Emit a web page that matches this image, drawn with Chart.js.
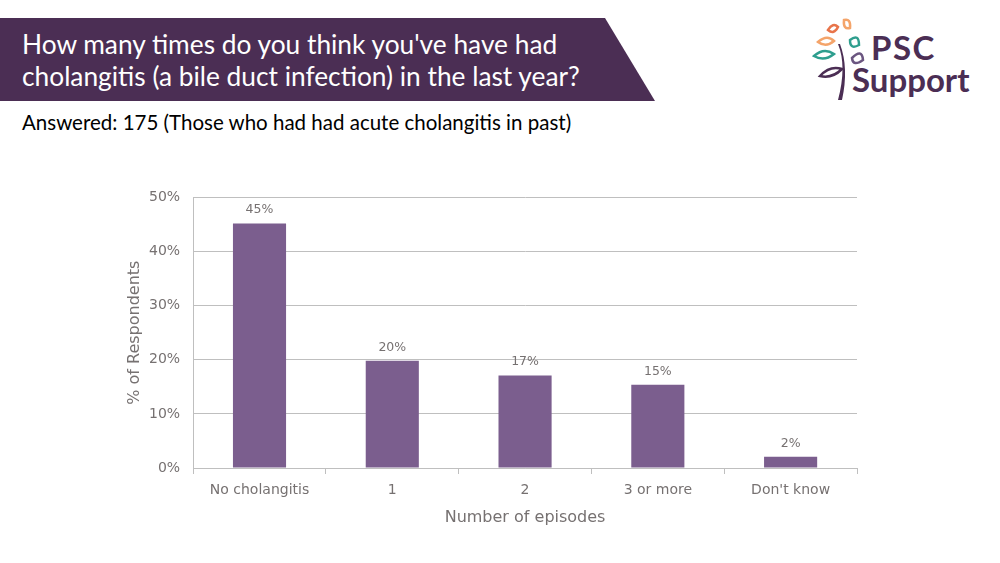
<!DOCTYPE html>
<html>
<head>
<meta charset="utf-8">
<script src="https://cdn.jsdelivr.net/npm/chart.js@4.4.0/dist/chart.umd.min.js"></script>
<style>
  html, body { margin: 0; padding: 0; background: #fff; }
  body { width: 1000px; height: 563px; position: relative; overflow: hidden; font-family: Lato, "Open Sans", sans-serif; }
  #banner { position: absolute; left: 0; top: 18px; width: 655px; height: 83px; background: #4B2E54;
    clip-path: polygon(0 0, 605px 0, 655px 83px, 0 83px); }
  #title { position: absolute; left: 22px; top: 28px; color: #fff; font-size: 26.3px; line-height: 32px; }
  #sub { position: absolute; left: 22px; top: 110px; color: #000; font-size: 20.5px; }
  #logo { position: absolute; left: 808px; top: 14px; }
  #chartBox { position: absolute; left: 100px; top: 176px; width: 780px; height: 364px; }
</style>
</head>
<body>
<div id="banner"></div>
<div id="title">How many times do you think you've have had<br>cholangitis (a bile duct infection) in the last year?</div>
<div id="sub">Answered: 175 (Those who had had acute cholangitis in past)</div>
<svg id="logo" width="175" height="88" viewBox="0 0 175 88">
  <g fill="none" stroke-width="2.5">
    <path d="M20 16 q5 -8 10 -3 q-4 8 -10 3z" stroke="#E8744A"/>
    <path d="M36 6 q7 -2 6 8 q-7 2 -6 -8z" stroke="#F4A46A"/>
    <path d="M10 28 q9 -8 16 -1 q-8 7 -16 1z" stroke="#F4A46A"/>
    <path d="M42 26 q9 -7 9 5 q-9 5 -9 -5z" stroke="#2E9E8E"/>
    <path d="M6 42 q10 -9 20 -2 q-10 8 -20 2z" stroke="#2E9E8E"/>
    <path d="M44 44 q10 -10 11 2 q-10 7 -11 -2z" stroke="#6B5680"/>
    <path d="M12 62 q10 -11 22 -7 q-10 10 -22 7z" stroke="#4B2E54"/>
  </g>
  <path d="M30 30 q9 22 0 56 l4 0 q7 -32 -2 -56z" fill="#4B2E54"/>
  <text x="63" y="46" font-family="Lato, sans-serif" font-weight="700" font-size="33" letter-spacing="1.5" fill="#4B2E54">PSC</text>
  <text x="44" y="78" font-family="Lato, sans-serif" font-weight="700" font-size="33" fill="#4B2E54">Support</text>
</svg>
<div id="chartBox"><canvas id="chart"></canvas></div>
<script>
const categories = ['No cholangitis', '1', '2', '3 or more', "Don't know"];
const percentValues = [45.2, 19.8, 17.1, 15.4, 2.1];
const valueLabels = ['45%', '20%', '17%', '15%', '2%'];
const yTitle = '% of Respondents';

const chartFont = '"DejaVu Sans", Verdana, sans-serif';

// value labels above bars + y axis title placed by hand
const barLabels = {
  id: 'barLabels',
  afterDatasetsDraw(chart) {
    const ctx = chart.ctx;
    const meta = chart.getDatasetMeta(0);
    const area = chart.chartArea;
    ctx.save();
    ctx.fillStyle = '#767171';
    ctx.font = '12.5px ' + chartFont;
    ctx.textAlign = 'center';
    ctx.textBaseline = 'bottom';
    meta.data.forEach((bar, i) => {
      ctx.fillText(valueLabels[i], bar.x, bar.y - 7);
    });
    ctx.translate(area.left - 58, (area.top + area.bottom) / 2);
    ctx.rotate(-Math.PI / 2);
    ctx.font = '16px ' + chartFont;
    ctx.textBaseline = 'middle';
    ctx.fillText(yTitle, 0, 0);
    ctx.restore();
  }
};

const tickFont = { family: chartFont, size: 14 };

new Chart(document.getElementById('chart'), {
  type: 'bar',
  data: {
    labels: categories,
    datasets: [{
      data: percentValues,
      backgroundColor: '#7B5E8E',
      categoryPercentage: 0.4,
      barPercentage: 1
    }]
  },
  options: {
    responsive: true,
    maintainAspectRatio: false,
    animation: false,
    layout: { padding: { top: 4, right: 23, bottom: 9, left: 36 } },
    plugins: { legend: { display: false }, tooltip: { enabled: false } },
    scales: {
      x: {
        grid: { display: true, drawOnChartArea: false, offset: true, tickLength: 6, color: '#BFBFBF' },
        border: { color: '#BFBFBF' },
        ticks: { color: '#767171', font: tickFont, padding: 8 },
        title: { display: true, text: 'Number of episodes', color: '#767171', font: { family: chartFont, size: 16 }, padding: { top: 1 } }
      },
      y: {
        min: 0, max: 50,
        grid: { color: '#BFBFBF', drawTicks: false },
        border: { display: true, color: '#BFBFBF' },
        ticks: { stepSize: 10, color: '#767171', font: tickFont, padding: 13,
          callback: v => v + '%' }
      }
    }
  },
  plugins: [barLabels]
});
</script>
</body>
</html>
